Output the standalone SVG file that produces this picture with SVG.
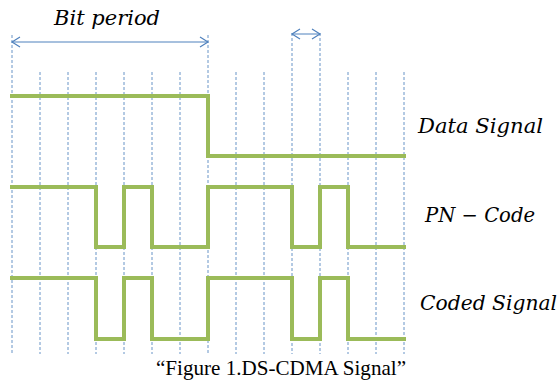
<svg xmlns="http://www.w3.org/2000/svg" width="559" height="383" viewBox="0 0 559 383">
  <style>
    .grid { stroke: #4f81bd; stroke-width: 1; stroke-dasharray: 3 2; fill: none; opacity: 0.85; }
    .sig { stroke: #9bbb59; stroke-width: 4; fill: none; stroke-linejoin: miter; stroke-linecap: square; }
    .dim { stroke: #4f81bd; stroke-width: 1; fill: none; }
    .lbl { font-family: "DejaVu Serif", "Liberation Serif", serif; font-style: italic; font-size: 20px; fill: #000; }
    .cap { font-family: "Liberation Serif", "Times New Roman", serif; font-size: 21px; fill: #000; }
  </style>
  <defs>
    <marker id="chev" viewBox="-10 -6 12 12" markerWidth="12" markerHeight="12" refX="0" refY="0" orient="auto-start-reverse" markerUnits="userSpaceOnUse">
      <path d="M-8,-5 L0,0 L-8,5" fill="none" stroke="#4f81bd" stroke-width="1.2"/>
    </marker>
  </defs>
  <rect width="559" height="383" fill="#ffffff"/>
  <g id="grid">
    <line class="grid" x1="12" y1="35" x2="12" y2="354"/>
    <line class="grid" x1="40" y1="72" x2="40" y2="354"/>
    <line class="grid" x1="68" y1="72" x2="68" y2="354"/>
    <line class="grid" x1="96" y1="72" x2="96" y2="354"/>
    <line class="grid" x1="124" y1="72" x2="124" y2="354"/>
    <line class="grid" x1="152" y1="72" x2="152" y2="354"/>
    <line class="grid" x1="180" y1="72" x2="180" y2="354"/>
    <line class="grid" x1="208" y1="35" x2="208" y2="354"/>
    <line class="grid" x1="236" y1="72" x2="236" y2="354"/>
    <line class="grid" x1="264" y1="72" x2="264" y2="354"/>
    <line class="grid" x1="292" y1="33" x2="292" y2="354"/>
    <line class="grid" x1="320" y1="33" x2="320" y2="354"/>
    <line class="grid" x1="348" y1="72" x2="348" y2="354"/>
    <line class="grid" x1="376" y1="72" x2="376" y2="354"/>
    <line class="grid" x1="404" y1="72" x2="404" y2="354"/>
  </g>
  <g id="connectors">
    <line class="dim" x1="12" y1="42" x2="208" y2="42" marker-start="url(#chev)" marker-end="url(#chev)"/>
    <line class="dim" x1="292" y1="34" x2="320" y2="34" marker-start="url(#chev)" marker-end="url(#chev)"/>
  </g>
  <g id="bit-period">
    <text class="lbl" x="54" y="25" textLength="106" lengthAdjust="spacingAndGlyphs">Bit period</text>
  </g>
  <g id="data-signal">
    <path class="sig" d="M12,96 H208 V156 H404"/>
    <text class="lbl" x="418" y="133" textLength="125" lengthAdjust="spacingAndGlyphs">Data Signal</text>
  </g>
  <g id="pn-code">
    <path class="sig" d="M12,187 H96 V247 H124 V187 H152 V247 H208 V187 H292 V247 H320 V187 H348 V247 H404"/>
    <text class="lbl" x="425" y="222" textLength="110" lengthAdjust="spacingAndGlyphs">PN − Code</text>
  </g>
  <g id="coded-signal">
    <path class="sig" d="M12,278 H96 V339 H124 V278 H152 V339 H208 V278 H292 V339 H320 V278 H348 V339 H404"/>
    <text class="lbl" x="420" y="310" textLength="137" lengthAdjust="spacingAndGlyphs">Coded Signal</text>
  </g>
  <g id="caption">
    <text class="cap" x="156" y="375" textLength="250" lengthAdjust="spacingAndGlyphs">“Figure 1.DS-CDMA Signal”</text>
  </g>
</svg>
